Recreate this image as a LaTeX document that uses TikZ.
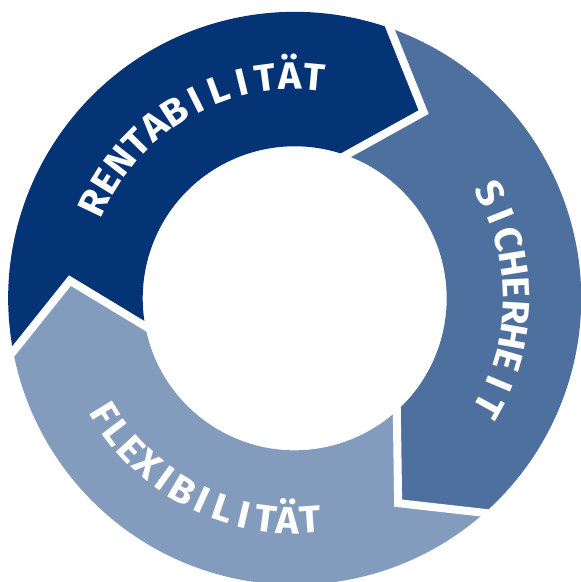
\documentclass[tikz,border=0pt]{standalone}
\usepackage{fontspec}
\newfontfamily\lblfam[FakeStretch=1.04]{Fira Sans}
\usetikzlibrary{calc}
\definecolor{cdark}{HTML}{043475}
\definecolor{cmed}{HTML}{4E709E}
\definecolor{clight}{HTML}{839CBD}
\newcommand\lblfont{\lblfam\bfseries\fontsize{34}{34}\selectfont}
\newdimen\arcW \newdimen\arcP \newcount\arcN \newdimen\capH
\def\sr{222}
\def\hc{13.2}
\def\Ro{286.5}
\def\Ri{152}
\tikzset{
  lbl/.style={text=white, inner sep=0pt, outer sep=0pt, anchor=base, font=\lblfont},
  gap/.style={draw=white, line width=8pt, line join=miter},
}
% #1 name prefix, #2 start angle, #3 end angle, #4 dir (1 clockwise, -1 counterclockwise), #5 letters
\newcommand\arcword[5]{%
  \global\arcW=0pt \global\arcN=0
  \foreach \ltr in {#5}{\setbox0=\hbox{\lblfont\ltr}\global\advance\arcW by \wd0 \global\advance\arcN by 1 }%
  \pgfmathsetmacro\arcL{abs((#2)-(#3))*pi/180*\sr}%
  \pgfmathsetmacro\arcT{max(0.5,(\arcL-\the\arcW)/(\the\arcN-1))}%
  \global\arcP=0pt
  \foreach \ltr [count=\i] in {#5}{%
    \setbox0=\hbox{\lblfont\ltr}%
    \pgfmathsetmacro\arcA{(#2)-(#4)*(\the\arcP+0.5*\the\wd0)/\sr*180/pi}%
    \pgfmathsetmacro\arcB{(#4)>0 ? \sr-\hc : \sr+\hc}%
    \pgfmathsetmacro\arcR{\arcA-(#4)*90}%
    \node[lbl, rotate=\arcR] (#1\i) at (\arcA:\arcB pt) {\ltr};
    \global\advance\arcP by \wd0
    \global\advance\arcP by \arcT pt
  }%
}
\begin{document}
\setbox0=\hbox{\lblfam\bfseries\fontsize{34}{34}\selectfont H}\capH=\ht0
\pgfmathsetmacro\fsz{34*26.4/\the\capH}%
\renewcommand\lblfont{\lblfam\bfseries\fontsize{\fsz}{\fsz}\selectfont}%
\begin{tikzpicture}
\fill[white] (-294.7pt,-283.7pt) rectangle (286.3pt,298.3pt);
\useasboundingbox (-294.7pt,-283.7pt) rectangle (286.3pt,298.3pt);
% chevron centre lines of the white gaps
\coordinate (Ao) at (70.6:\Ro pt);
\coordinate (At) at (55.3:226.5pt);
\coordinate (Ai) at (70.3:\Ri pt);
\coordinate (Bo) at (-48.5:\Ro pt);
\coordinate (Bt) at (-63.2:229.5pt);
\coordinate (Bi) at (-47.8:\Ri pt);
\coordinate (Co) at (190.7:\Ro pt);
\coordinate (Ct) at (175.5:225.5pt);
\coordinate (Ci) at (190.6:\Ri pt);
% dark arrow
\fill[cdark] (Co) arc[start angle=190.7, end angle=70.6, radius=\Ro pt] -- (At) -- (Ai)
  arc[start angle=70.3, end angle=190.6, radius=\Ri pt] -- (Ct) -- cycle;
% medium arrow
\fill[cmed] (Ao) arc[start angle=70.6, end angle=-48.5, radius=\Ro pt] -- (Bt) -- (Bi)
  arc[start angle=-47.8, end angle=70.3, radius=\Ri pt] -- (At) -- cycle;
% light arrow
\fill[clight] (Bo) arc[start angle=-48.5, end angle=-169.3, radius=\Ro pt] -- (Ct) -- (Ci)
  arc[start angle=-169.4, end angle=-47.8, radius=\Ri pt] -- (Bt) -- cycle;
% white gaps
\draw[gap] ($(At)!1.15!(Ao)$) -- (At) -- ($(At)!1.15!(Ai)$);
\draw[gap] ($(Bt)!1.15!(Bo)$) -- (Bt) -- ($(Bt)!1.15!(Bi)$);
\draw[gap] ($(Ct)!1.15!(Co)$) -- (Ct) -- ($(Ct)!1.15!(Ci)$);
% labels
\arcword{ren}{154.6}{84.8}{1}{R,E,N,T,A,B,I,L,I,T,Ä,T}
\arcword{sic}{28.1}{-29.0}{1}{S,I,C,H,E,R,H,E,I,T}
\arcword{flx}{211.4}{273.9}{-1}{F,L,E,X,I,B,I,L,I,T,Ä,T}
\end{tikzpicture}
\end{document}
